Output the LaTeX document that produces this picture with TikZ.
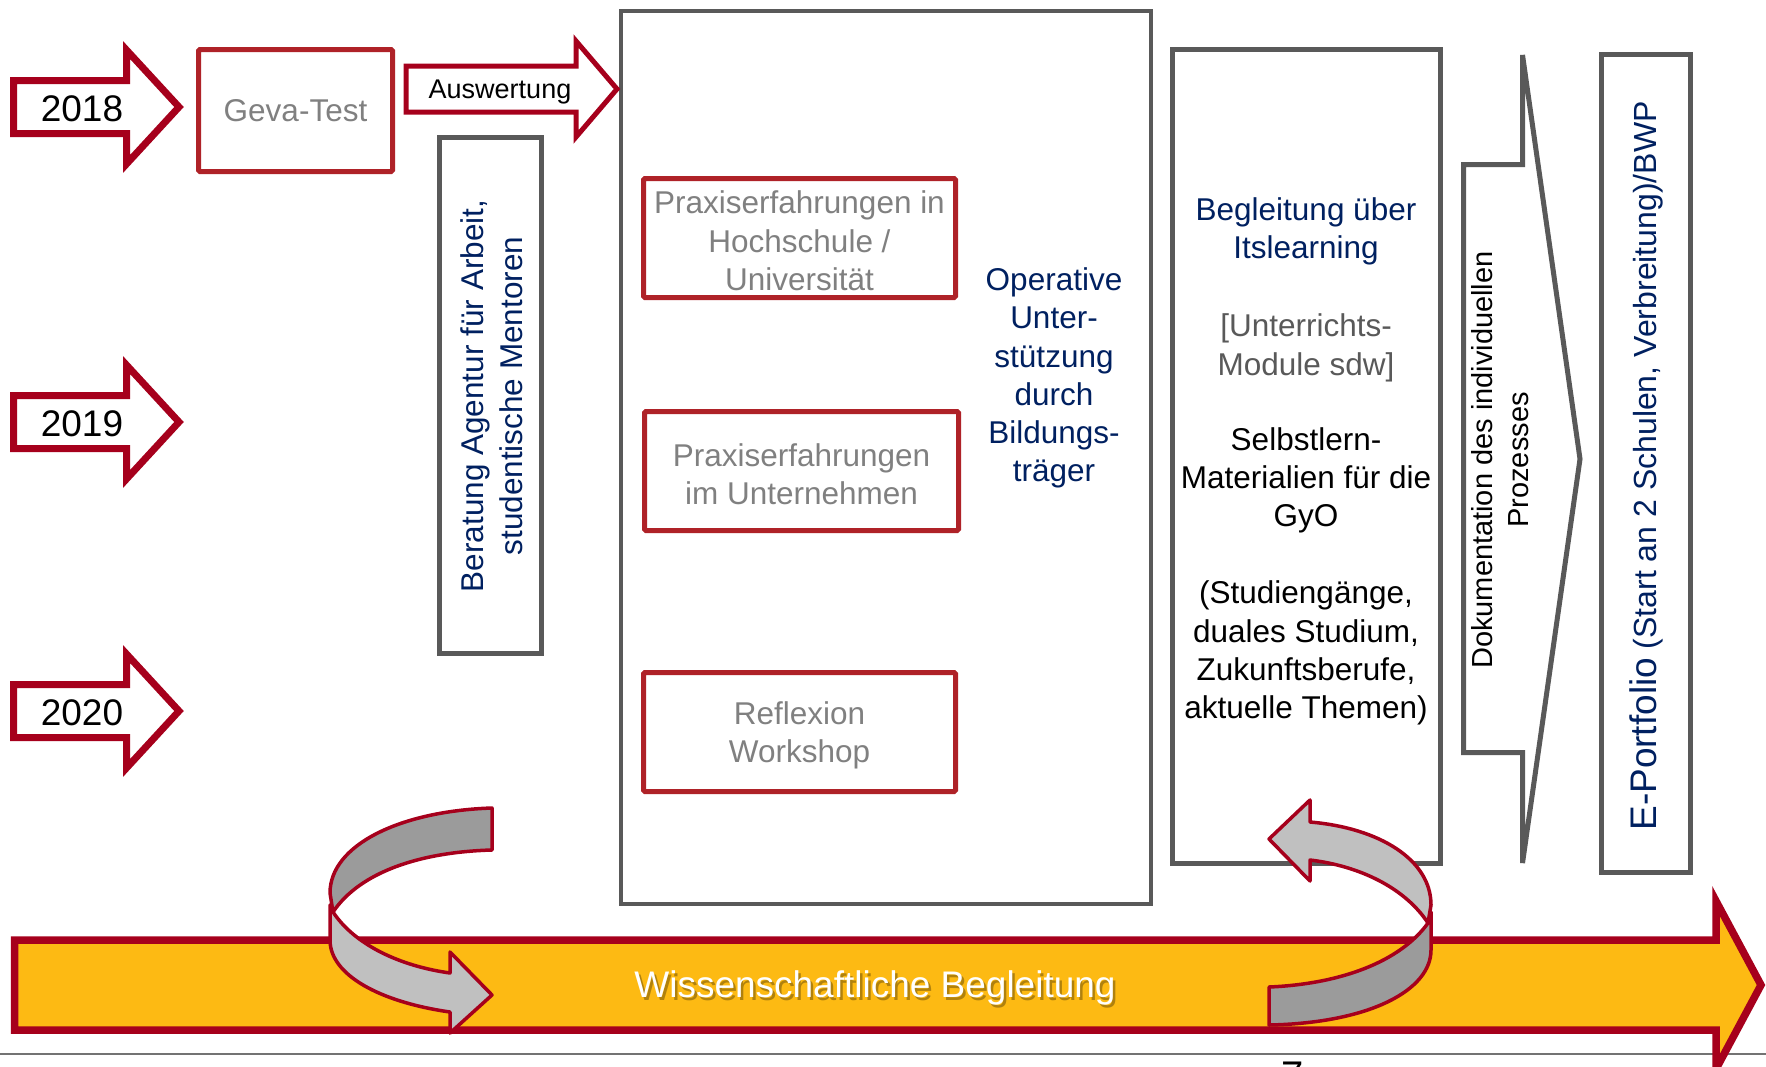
\documentclass[tikz,border=0pt]{standalone}
\usepackage{fontspec}
\setmainfont{Liberation Sans}
\definecolor{arrowred}{RGB}{166,0,28}
\definecolor{boxred}{RGB}{175,34,40}
\definecolor{boxgray}{RGB}{89,89,89}
\definecolor{rulegray}{RGB}{115,115,115}
\definecolor{navy}{RGB}{0,32,96}
\definecolor{txtgray}{RGB}{128,128,128}
\definecolor{subgray}{RGB}{89,89,89}
\definecolor{bandyellow}{RGB}{253,186,19}
\definecolor{ribdark}{RGB}{155,155,155}
\definecolor{riblight}{RGB}{192,192,192}

\begin{document}
\begin{tikzpicture}[x=1pt,y=-1pt,
    yeararrow/.style={draw=arrowred,line width=7pt,fill=white},
    redbox/.style={draw=boxred,line width=5pt,rounded corners=1.5pt,inner sep=0pt},
    graybox/.style={draw=boxgray,line width=5pt,inner sep=0pt},
    ribbon/.style={draw=arrowred,line width=3.5pt,line join=round},
    txt/.style={font=\fontsize{31.5}{38.3}\selectfont,align=center,inner sep=0pt}]
        \useasboundingbox (0,0) rectangle (1766,1066);
        \draw[line width=2pt,draw=rulegray] (0,1054) -- (1766,1054);
        \node[anchor=north,inner sep=0pt,font=\fontsize{40}{44}\selectfont] (pagenum) at (1292.5,1062) {7};

        \foreach \yr/\yc in {2018/107,2019/422,2020/711}{
            \draw[yeararrow] (13.5,\yc-26.5) -- (126.5,\yc-26.5) -- (126.5,\yc-57) -- (179,\yc)
                -- (126.5,\yc+57) -- (126.5,\yc+26.5) -- (13.5,\yc+26.5) -- cycle;
            \node[txt,font=\fontsize{37}{40}\selectfont] (y\yr) at (82,\yc+2) {\yr};
        }

        \node[redbox,minimum width=194pt,minimum height=122pt,txt,text=txtgray] (geva) at (295.5,110.5) {Geva-Test};

        \node[graybox,line width=4.5pt,minimum width=530pt,minimum height=893pt] (mid) at (886,457.5) {};

        \draw[draw=arrowred,line width=5pt,fill=white] (406,66) -- (576,66) -- (576,41) -- (617,89)
            -- (576,137) -- (576,112) -- (406,112) -- cycle;
        \node[txt,font=\fontsize{27}{30}\selectfont] (ausw) at (500,92) {Auswertung};

        \node[graybox,minimum width=102pt,minimum height=516pt] (berbox) at (490.5,395.5) {};
        \node[txt,rotate=90,text=navy,font=\fontsize{31.5}{39}\selectfont] (ber) at (492,396) {Beratung Agentur für Arbeit,\\studentische Mentoren};

        \node[redbox,minimum width=312pt,minimum height=119pt,text=txtgray] (hoch) at (799.5,238) {};
        \node[txt,text=txtgray] (hochtext) at (799.5,241) {Praxiserfahrungen in\\Hochschule /\\Universität};
        \node[redbox,minimum width=314pt,minimum height=119pt] (unt) at (801.5,471) {};
        \node[txt,text=txtgray] (unttext) at (801.5,474) {Praxiserfahrungen\\im Unternehmen};
        \node[redbox,minimum width=312pt,minimum height=119pt] (refl) at (799.5,732) {};
        \node[txt,text=txtgray] (refltext) at (799.5,735) {Reflexion\\Workshop};
        \node[txt,text=navy] (oper) at (1054,378) {Operative\\Unter-\\stützung\\durch\\Bildungs-\\träger};

        \node[graybox,minimum width=268pt,minimum height=813.5pt] (lms) at (1306.5,456.25) {};
        \node[txt,text=navy] (lms1) at (1306,231.6) {Begleitung über\\Itslearning};
        \node[txt,text=subgray] (lms2) at (1306,347.7) {[Unterrichts-\\Module sdw]};
        \node[txt] (lms3) at (1306,480.5) {Selbstlern-\\Materialien für die\\GyO};
        \node[txt] (lms4) at (1306,653) {(Studiengänge,\\duales Studium,\\Zukunftsberufe,\\aktuelle Themen)};

        \draw[draw=boxgray,line width=5pt,fill=white] (1463.5,164.5) -- (1522.5,164.5) -- (1522.5,55) -- (1580,459)
            -- (1522.5,863) -- (1522.5,752.5) -- (1463.5,752.5) -- cycle;
        \node[txt,rotate=90,font=\fontsize{29}{36}\selectfont] (doku) at (1500,460) {Dokumentation des individuellen\\Prozesses};

        \node[graybox,minimum width=89pt,minimum height=818pt] (epbox) at (1646,463.5) {};
        \node[txt,rotate=90,text=navy] (ep) at (1646.5,466) {{\fontsize{37}{40}\selectfont E-Portfolio} {\fontsize{32}{40}\selectfont (Start an 2 Schulen, Verbreitung)/BWP}};

        \filldraw[draw=arrowred,line width=7.5pt,fill=bandyellow] (14.5,940) -- (1716,940) -- (1716,901) -- (1761,985)
            -- (1716,1069) -- (1716,1030) -- (14.5,1030) -- cycle;
        \node[txt,font=\fontsize{37}{40}\selectfont,text=black,opacity=0.3] (wbs) at (877.5,990.5) {Wissenschaftliche Begleitung};
        \node[txt,font=\fontsize{37}{40}\selectfont,text=white] (wb) at (875,988) {Wissenschaftliche Begleitung};

        \filldraw[ribbon,fill=ribdark] (492,808) .. controls (400,811) and (330,845) .. (330,893) -- (333,912)
            .. controls (360,872) and (420,852) .. (492,850) -- cycle;
        \filldraw[ribbon,fill=riblight] (333,912) .. controls (355,945) and (400,966) .. (450,973) -- (450,952) -- (492,995)
            -- (450,1033) -- (450,1012) .. controls (380,1002) and (330,975) .. (330,940) -- (330,905) -- cycle;

        \filldraw[ribbon,fill=riblight] (1269,839) -- (1310,800) -- (1310,822) .. controls (1380,828) and (1431,860) .. (1431,905)
            -- (1428,923) .. controls (1405,888) and (1360,866) .. (1310,860) -- (1310,881) -- cycle;
        \filldraw[ribbon,fill=ribdark] (1428,923) .. controls (1400,962) and (1340,984) .. (1269,987) -- (1269,1025)
            .. controls (1370,1023) and (1431,990) .. (1431,950) -- (1431,912) -- cycle;
\end{tikzpicture}
\end{document}
